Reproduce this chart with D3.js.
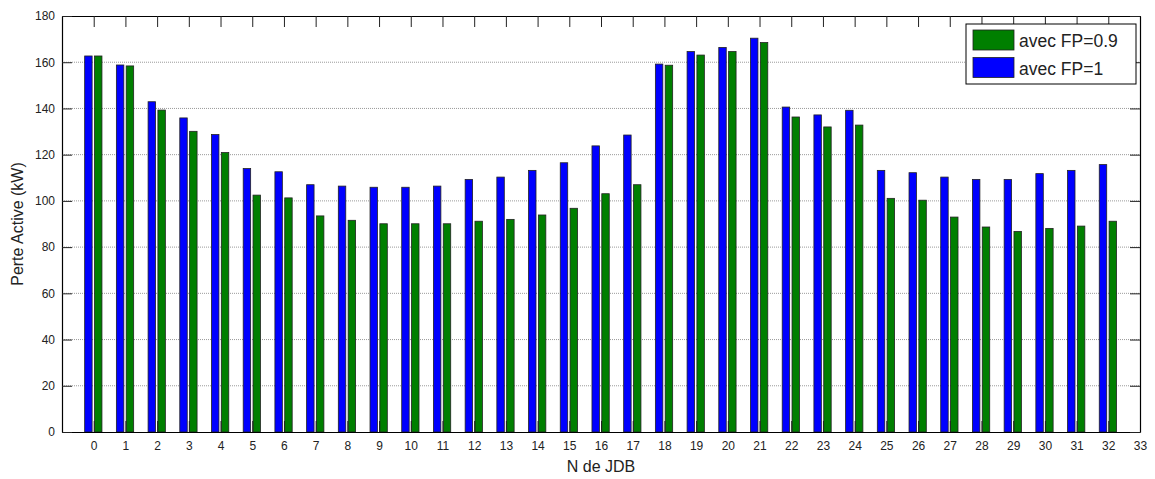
<!DOCTYPE html>
<html lang="fr">
<head>
<meta charset="utf-8">
<title>Perte Active</title>
<script src="https://d3js.org/d3.v7.min.js"></script>
<style>
  body { margin: 0; background: #fff; }
  text { font-family: "Liberation Sans", Arial, sans-serif; fill: #222; }
</style>
</head>
<body>
<div id="chart"></div>
<script>
// N de JDB
var jdb = d3.range(0, 33);
// Perte active (kW), avec FP=1
var fp1 = [162.7, 158.8, 142.9, 135.9, 128.7, 114.0, 112.6, 107.0, 106.4, 105.9, 105.9,
           106.4, 109.3, 110.3, 113.2, 116.5, 123.8, 128.5, 159.2, 164.6, 166.4, 170.4,
           140.6, 137.2, 139.2, 113.2, 112.2, 110.3, 109.3, 109.3, 111.8, 113.2, 115.7];
// Perte active (kW), avec FP=0.9
var fp09 = [162.7, 158.4, 139.3, 130.1, 120.9, 102.5, 101.3, 93.5, 91.6, 90.1, 90.1,
            90.1, 91.2, 92.0, 93.9, 96.8, 103.1, 107.0, 158.7, 163.1, 164.6, 168.5,
            136.3, 132.0, 132.8, 101.1, 100.3, 93.0, 88.7, 86.8, 88.1, 89.1, 91.2];
var xTicks = d3.range(0, 34);
var yTicks = d3.range(0, 181, 20);

var W = 1155, H = 479;
var m = {left: 62, right: 15, top: 16, bottom: 47};

var svg = d3.select("#chart").append("svg").attr("width", W).attr("height", H);

var x = d3.scaleLinear().domain([-1, 33]).range([m.left, W - m.right]);
var y = d3.scaleLinear().domain([0, 180]).range([H - m.bottom, m.top]);

// grid
svg.append("g").selectAll("line").data(yTicks.slice(1, -1)).join("line")
  .attr("x1", m.left).attr("x2", W - m.right)
  .attr("y1", d => y(d)).attr("y2", d => y(d))
  .attr("stroke", "#9a9a9a").attr("stroke-dasharray", "1,1");

// bars
var bw = 0.235;
svg.append("g").selectAll("rect").data(jdb).join("rect")
  .attr("x", d => x(d - 0.285)).attr("width", x(bw) - x(0))
  .attr("y", d => y(fp1[d])).attr("height", d => y(0) - y(fp1[d]))
  .attr("fill", "#0000ff").attr("stroke", "#222").attr("stroke-width", 0.8);
svg.append("g").selectAll("rect").data(jdb).join("rect")
  .attr("x", d => x(d + 0.025)).attr("width", x(bw) - x(0))
  .attr("y", d => y(fp09[d])).attr("height", d => y(0) - y(fp09[d]))
  .attr("fill", "#007f00").attr("stroke", "#222").attr("stroke-width", 0.8);

// axes
var xa = svg.append("g").attr("transform", "translate(0," + y(0) + ")")
  .call(d3.axisBottom(x).tickValues(xTicks).tickSize(-11).tickPadding(9).tickSizeOuter(0));
var xt = svg.append("g").attr("transform", "translate(0," + y(180) + ")")
  .call(d3.axisTop(x).tickValues(xTicks).tickSize(-11).tickFormat("").tickSizeOuter(0));
var ya = svg.append("g").attr("transform", "translate(" + x(-1) + ",0)")
  .call(d3.axisLeft(y).tickValues(yTicks).tickSize(-10).tickPadding(5).tickSizeOuter(0));
var yr = svg.append("g").attr("transform", "translate(" + x(33) + ",0)")
  .call(d3.axisRight(y).tickValues(yTicks).tickSize(-10).tickFormat("").tickSizeOuter(0));
[xa, xt, ya, yr].forEach(function (g) {
  g.select(".domain").attr("stroke", "#000").attr("stroke-width", 1.2);
  g.selectAll(".tick line").attr("stroke", "#222");
  g.selectAll(".tick text").attr("font-size", 12).attr("fill", "#222")
    .attr("font-family", "'Liberation Sans', Arial, sans-serif");
});
ya.selectAll(".tick text").attr("x", -7);

// labels
svg.append("text").attr("x", (x(-1) + x(33)) / 2).attr("y", 472)
  .attr("text-anchor", "middle").attr("font-size", 16).text("N de JDB");
svg.append("text").attr("transform", "translate(23," + y(90) + ") rotate(-90)")
  .attr("text-anchor", "middle").attr("font-size", 16).text("Perte Active (kW)");

// legend
var lg = svg.append("g").attr("transform", "translate(966,24)");
lg.append("rect").attr("width", 170).attr("height", 60)
  .attr("fill", "#fff").attr("stroke", "#000").attr("stroke-width", 1);
var items = [{label: "avec FP=0.9", color: "#007f00"}, {label: "avec FP=1", color: "#0000ff"}];
items.forEach(function (it, i) {
  lg.append("rect").attr("x", 7).attr("y", 6 + i * 27.5).attr("width", 41).attr("height", 20)
    .attr("fill", it.color).attr("stroke", "#222").attr("stroke-width", 0.8);
  lg.append("text").attr("x", 53).attr("y", 23 + i * 27.5).attr("font-size", 17.5).text(it.label);
});
</script>
</body>
</html>
